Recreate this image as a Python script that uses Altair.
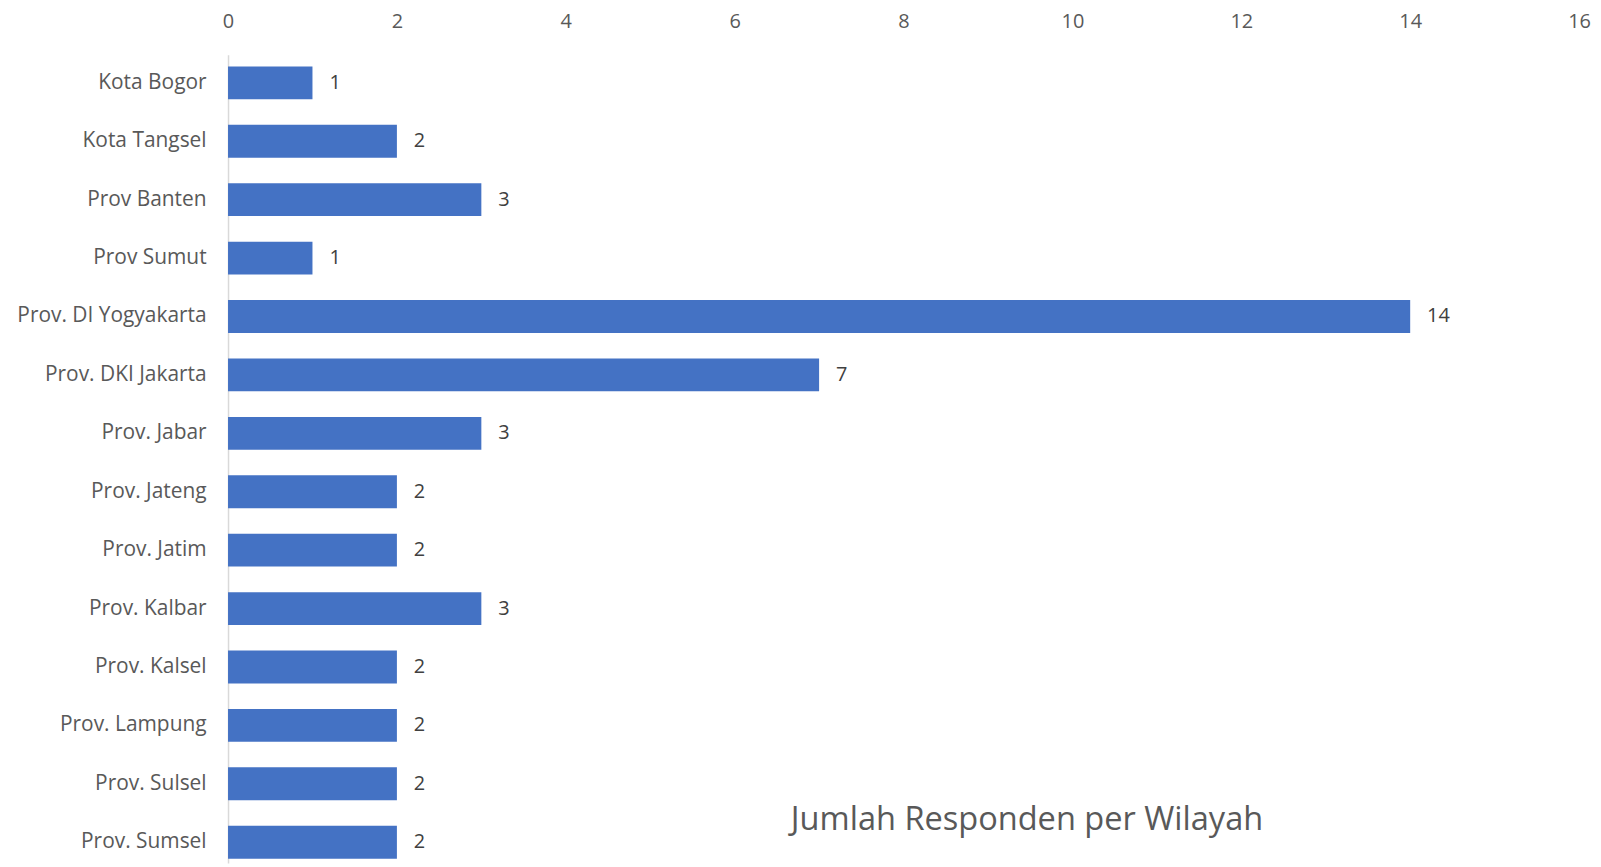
import altair as alt
import pandas as pd

regions = ["Kota Bogor", "Kota Tangsel", "Prov Banten", "Prov Sumut",
           "Prov. DI Yogyakarta", "Prov. DKI Jakarta", "Prov. Jabar",
           "Prov. Jateng", "Prov. Jatim", "Prov. Kalbar", "Prov. Kalsel",
           "Prov. Lampung", "Prov. Sulsel", "Prov. Sumsel"]
counts = [1, 2, 3, 1, 14, 7, 3, 2, 2, 3, 2, 2, 2, 2]
x_ticks = [0, 2, 4, 6, 8, 10, 12, 14, 16]
title_text = "Jumlah Responden per Wilayah"

df = pd.DataFrame({"wilayah": regions, "jumlah": counts})

FONT = "Open Sans"

y_enc = alt.Y("wilayah:N", sort=regions,
              scale=alt.Scale(paddingInner=0.4375, paddingOuter=0.139, align=0.724),
              axis=alt.Axis(title=None, orient="left", domain=True, domainColor="#D9D9D9",
                            domainWidth=1.5, ticks=False, grid=False, labelPadding=22,
                            labelLimit=400, labelFontSize=21, labelColor="#595959",
                            labelFont=FONT))
x_enc = alt.X("jumlah:Q",
              scale=alt.Scale(domain=[0, 16], nice=False),
              axis=alt.Axis(title=None, orient="top", domain=False, ticks=False, grid=False,
                            values=x_ticks, format="d", labelFlush=False, labelPadding=27,
                            labelBaseline="alphabetic",
                            labelFontSize=20, labelColor="#595959", labelFont=FONT))

base = alt.Chart(df)
bars = base.mark_bar(color="#4472C4").encode(x=x_enc, y=y_enc)
labels = base.mark_text(align="left", baseline="middle", dx=17, fontSize=20,
                        color="#404040", font=FONT).encode(
    x="jumlah:Q", y=alt.Y("wilayah:N", sort=regions), text="jumlah:Q")

chart = (bars + labels).properties(
    width=1357, height=812,
    autosize=alt.AutoSizeParams(type="none"),
    padding={"left": 221, "top": 45, "right": 14, "bottom": 0},
    title=alt.TitleParams(title_text, orient="bottom", anchor="middle", frame="group",
                          baseline="middle", offset=0, dx=124, dy=-43,
                          fontSize=32.7, font=FONT, fontWeight="normal", color="#595959"),
).configure_view(stroke=None)

chart.save("out.html", embed_options={"renderer": "svg", "actions": False})
